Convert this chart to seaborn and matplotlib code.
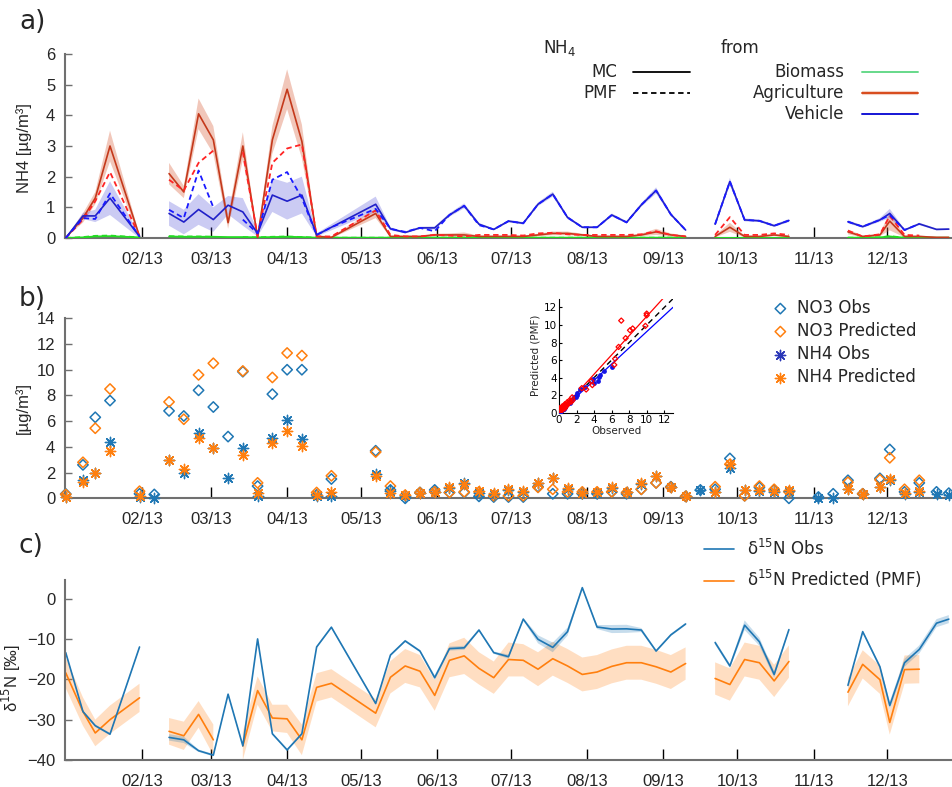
import numpy as np
import pandas as pd
import matplotlib
matplotlib.use("Agg")
import matplotlib.pyplot as plt
import seaborn as sns
from matplotlib.lines import Line2D

nan = np.nan

# ---------------- data ----------------
sample_day = [0, 7, 12, 18, 30, 36, 42, 48, 54, 60,
              66, 72, 78, 84, 90, 96, 102, 108, 126, 132,
              138, 144, 150, 156, 162, 168, 174, 180, 186, 192,
              198, 204, 210, 216, 222, 228, 234, 240, 246, 252,
              258, 264, 270, 276, 282, 288, 294, 306, 312, 318,
              324, 331, 335, 341, 347, 354, 359]

month_ticks = [31, 59, 90, 120, 151, 181, 212, 243, 273, 304, 334]
month_labels = ["02/13", "03/13", "04/13", "05/13", "06/13", "07/13",
                "08/13", "09/13", "10/13", "11/13", "12/13"]

# panel a: NH4 source contributions [ug/m3]
agr_mc = [0.0, 0.65, 1.3, 3.0, 0.05, nan, 2.1, 1.5, 4.05, 3.2,
          0.5, 3.0, 0.02, 3.2, 4.85, 3.15, 0.05, 0.02, 0.8, 0.05,
          0.05, 0.05, 0.1, 0.1, 0.1, 0.05, 0.05, 0.05, 0.05, 0.1,
          0.15, 0.15, 0.1, 0.05, 0.05, 0.05, 0.1, 0.2, 0.1, 0.05,
          nan, 0.05, 0.35, 0.05, 0.05, 0.1, 0.05, nan, nan, 0.2,
          0.05, 0.1, 0.55, 0.05, 0.05, 0.02, 0.02]
agr_mc_err = [0.0, 0.15, 0.2, 0.5, 0.05, nan, 0.35, 0.2, 0.5, 0.45,
              0.2, 0.45, 0.05, 0.45, 0.65, 0.55, 0.05, 0.03, 0.15, 0.03,
              0.03, 0.03, 0.04, 0.05, 0.08, 0.03, 0.03, 0.03, 0.03, 0.04,
              0.06, 0.06, 0.04, 0.03, 0.03, 0.03, 0.04, 0.1, 0.05, 0.03,
              nan, 0.03, 0.15, 0.03, 0.03, 0.04, 0.03, nan, nan, 0.08,
              0.03, 0.04, 0.3, 0.03, 0.03, 0.02, 0.02]
agr_pmf = [0.0, 0.6, 1.2, 2.15, 0.05, nan, 1.9, 1.55, 2.45, 2.85,
           nan, 2.8, 0.05, 2.45, 2.92, 3.05, 0.05, 0.05, 0.9, 0.1,
           0.05, 0.05, 0.1, 0.08, 0.05, 0.1, 0.1, 0.1, 0.08, 0.15,
           0.17, 0.12, 0.1, 0.1, 0.1, 0.1, 0.12, 0.22, 0.1, 0.05,
           nan, 0.1, 0.68, 0.1, 0.1, 0.15, 0.1, nan, nan, 0.24,
           0.05, 0.12, 0.72, 0.1, 0.08, nan, nan]
veh_mc = [0.0, 0.72, 0.72, 1.3, 0.05, nan, 0.8, 0.52, 0.93, 0.6,
          1.07, 0.85, 0.15, 1.4, 1.2, 1.4, 0.1, 0.35, 1.1, 0.3,
          0.18, 0.33, 0.33, 0.75, 1.05, 0.45, 0.28, 0.55, 0.48, 1.1,
          1.43, 0.67, 0.35, 0.35, 0.75, 0.51, 1.08, 1.55, 0.77, 0.26,
          nan, 0.45, 1.84, 0.59, 0.56, 0.4, 0.57, nan, nan, 0.53,
          0.37, 0.59, 0.8, 0.26, 0.46, 0.28, 0.29]
veh_mc_err = [0.0, 0.1, 0.2, 0.55, 0.05, nan, 0.4, 0.4, 0.5, 0.4,
              0.3, 0.45, 0.1, 0.55, 0.6, 0.6, 0.05, 0.1, 0.25, 0.05,
              0.03, 0.04, 0.05, 0.06, 0.08, 0.04, 0.03, 0.04, 0.04, 0.06,
              0.08, 0.05, 0.03, 0.03, 0.05, 0.04, 0.06, 0.1, 0.05, 0.03,
              nan, 0.04, 0.12, 0.05, 0.04, 0.04, 0.05, nan, nan, 0.05,
              0.04, 0.06, 0.15, 0.03, 0.04, 0.03, 0.03]
veh_pmf = [0.0, 0.65, 0.62, 1.45, 0.05, nan, 0.92, 0.65, 2.2, 1.0,
           nan, 0.6, 0.15, 1.9, 2.15, 1.3, 0.1, 0.35, 0.95, 0.3,
           0.2, 0.33, 0.22, 0.75, 1.05, 0.42, 0.28, 0.55, 0.48, 1.1,
           1.43, 0.67, 0.35, 0.35, 0.75, 0.51, 1.08, 1.55, 0.77, 0.26,
           nan, 0.45, 1.84, 0.59, 0.56, 0.4, 0.57, nan, nan, 0.53,
           0.37, 0.59, 0.75, 0.26, 0.46, nan, nan]
bio_mc = [0.0, 0.02, 0.05, 0.06, 0.02, nan, 0.05, 0.04, 0.04, 0.04,
          0.03, 0.03, 0.02, 0.03, 0.04, 0.03, 0.01, 0.01, 0.01, 0.01,
          0.01, 0.01, 0.01, 0.01, 0.01, 0.01, 0.01, 0.01, 0.01, 0.01,
          0.01, 0.01, 0.01, 0.01, 0.01, 0.01, 0.01, 0.01, 0.01, 0.01,
          nan, 0.01, 0.01, 0.01, 0.01, 0.01, 0.01, nan, nan, 0.01,
          0.01, 0.02, 0.05, 0.01, 0.01, 0.01, 0.01]
bio_pmf = [0.0, 0.03, 0.07, 0.08, 0.02, nan, 0.06, 0.05, 0.05, 0.04,
           nan, 0.03, 0.02, 0.04, 0.05, 0.03, 0.01, 0.01, 0.01, 0.01,
           0.01, 0.01, 0.01, 0.01, 0.01, 0.01, 0.01, 0.01, 0.01, 0.01,
           0.01, 0.01, 0.01, 0.01, 0.01, 0.01, 0.01, 0.01, 0.01, 0.01,
           nan, 0.01, 0.01, 0.01, 0.01, 0.01, 0.01, nan, nan, 0.01,
           0.01, 0.02, 0.06, 0.01, 0.01, nan, nan]

# panel b: concentrations [ug/m3]
no3_obs = [0.34, 2.6, 6.3, 7.6, 0.35, 0.3, 6.8, 6.4, 8.4, 7.1,
           4.8, 9.85, 0.95, 8.1, 10.0, 10.0, 0.26, 1.5, 3.7, 0.65,
           0.0, 0.45, 0.65, 0.45, 0.45, 0.15, 0.1, 0.1, 0.1, 0.9,
           0.35, 0.35, 0.35, 0.35, 0.5, 0.35, 0.7, 1.2, 0.9, 0.15,
           0.65, 0.7, 3.1, 0.2, 0.85, 0.65, 0.0, 0.1, 0.35, 1.4,
           0.35, 1.55, 3.8, 0.5, 1.2, 0.5, 0.4]
no3_pred = [0.3, 2.8, 5.45, 8.5, 0.55, nan, 7.5, 6.15, 9.6, 10.5,
            nan, 9.9, 1.2, 9.4, 11.3, 11.1, 0.45, 1.75, 3.6, 0.95,
            0.25, 0.45, 0.5, 0.45, 0.5, 0.5, 0.2, 0.2, 0.2, 0.85,
            0.7, 0.5, 0.5, 0.5, 0.5, 0.45, 0.7, 1.2, 0.85, 0.15,
            nan, 0.9, 2.65, 0.2, 0.95, 0.7, 0.5, nan, nan, 1.25,
            0.35, 1.45, 3.15, 0.7, 1.4, nan, nan]
nh4_obs = [0.1, 1.4, 2.0, 4.4, 0.1, 0.0, 3.0, 2.0, 5.1, 3.9,
           1.6, 3.95, 0.15, 4.7, 6.1, 4.6, 0.15, 0.2, 1.9, 0.55,
           0.15, 0.45, 0.5, 0.8, 1.2, 0.4, 0.35, 0.65, 0.5, 1.2,
           1.55, 0.7, 0.4, 0.45, 0.8, 0.5, 1.15, 1.7, 0.85, 0.2,
           0.65, 0.5, 2.35, 0.65, 0.6, 0.5, 0.6, 0.0, 0.0, 0.7,
           0.35, 0.85, 1.4, 0.35, 0.5, 0.35, 0.25]
nh4_pred = [0.1, 1.3, 2.0, 3.65, 0.2, nan, 2.95, 2.3, 4.7, 3.9,
            nan, 3.4, 0.4, 4.3, 5.2, 4.1, 0.25, 0.5, 1.75, 0.4,
            0.25, 0.45, 0.5, 0.85, 1.15, 0.6, 0.4, 0.7, 0.55, 1.2,
            1.6, 0.8, 0.45, 0.5, 0.85, 0.5, 1.2, 1.75, 0.85, 0.2,
            nan, 0.5, 2.7, 0.65, 0.65, 0.55, 0.65, nan, nan, 0.7,
            0.35, 0.85, 1.5, 0.45, 0.55, nan, nan]

# panel c: delta15N [permil]
d15n_obs = [-13.4, -28, -31.5, -33.6, -12, nan, -34.4, -35, -37.7, -38.8,
            -23.7, -36.5, -10, -33.5, -37.5, -33.5, -12, -7.1, -26, -14,
            -10.5, -13, -19.6, -12.4, -12.2, -7.8, -13.4, -14.4, -5.1, -10.1,
            -12.1, -8.2, 2.7, -7.05, -7.55, -7.5, -7.8, -13, -9, -6.3,
            nan, -10.9, -16.7, -6.6, -10.7, -18.8, -7.7, nan, nan, -21.5,
            -8.2, -16.9, -26.5, -15.9, -12.6, -6.1, -5.1]
d15n_obs_err = [0.3, 0.3, 0.3, 0.3, 0.3, nan, 0.8, 0.8, 0.3, 0.3,
                0.3, 0.3, 0.3, 0.3, 0.3, 0.3, 0.3, 0.3, 0.3, 0.3,
                0.3, 0.3, 0.6, 0.5, 0.5, 0.3, 0.3, 0.5, 0.3, 1.0,
                1.2, 1.0, 0.3, 0.5, 1.0, 1.0, 0.5, 0.3, 0.3, 0.3,
                nan, 0.5, 0.5, 1.2, 1.0, 0.8, 0.3, nan, nan, 0.3,
                0.3, 0.5, 1.0, 1.0, 1.0, 1.0, 1.0]
d15n_pred = [-18.4, -28, -33.3, -30, -24.6, nan, -32.9, -34, -28.7, -35,
             nan, -36.5, -22.8, -29.6, -29.8, -35, -22, -21, -28.4, -19.5,
             -16.7, -18, -24, -15.3, -14.2, -17.3, -19.6, -15.1, -15.3, -17.5,
             -14.9, -16.7, -18.8, -18.2, -16.8, -15.9, -15.9, -16.9, -18.2, -16.1,
             nan, -19.8, -21.3, -15.1, -15.9, -20.4, -15.6, nan, nan, -23.2,
             -16.3, -20.1, -30.7, -17.6, -17.5, nan, nan]
d15n_pred_err = [3.8, 3.5, 3.3, 3.5, 3.5, nan, 3.3, 3.5, 3.3, 3.8,
                 nan, 3.5, 3.5, 3.3, 3.5, 3.8, 3.5, 3.5, 3.5, 4.0,
                 4.2, 4.0, 3.8, 4.2, 4.5, 4.0, 4.0, 4.2, 4.0, 4.2,
                 4.2, 4.2, 4.2, 4.2, 4.2, 4.2, 4.2, 4.2, 4.2, 4.0,
                 nan, 4.0, 4.0, 4.2, 4.2, 4.0, 4.0, nan, nan, 3.5,
                 3.5, 3.5, 3.0, 3.5, 3.5, nan, nan]

# ---------------- style ----------------
sns.set_theme(style="white")
plt.rcParams["font.family"] = ["Liberation Sans", "DejaVu Sans"]
plt.rcParams["mathtext.fontset"] = "dejavusans"

C_AGR = "#c4391b"
C_AGR_P = "#ff2424"
C_AGR_B = "#d9603b"
C_VEH = "#2020c8"
C_VEH_P = "#1a1aff"
C_VEH_B = "#3030d0"
C_BIO = "#22dd22"
C_BLUE = "#1f77b4"
C_ORANGE = "#ff7f0e"
SPINE = "#707070"
XMIN, XMAX = -0.3, 360.3

days = np.array(sample_day, float)

fig = plt.figure(figsize=(9.52, 7.87), dpi=100)


def fx(px):
    return px / 952.0


def fy(py):
    return 1.0 - py / 787.0


AX_L = 65 / 952.0
AX_W = 1.0 - AX_L
ax_a = fig.add_axes([AX_L, fy(238), AX_W, 184 / 787.0])
ax_b = fig.add_axes([AX_L, fy(498.3), AX_W, 180 / 787.0])
ax_c = fig.add_axes([AX_L, fy(760), AX_W, 180 / 787.0])


def seg_line(ax, x, y, **kw):
    df = pd.DataFrame({"day": np.asarray(x, float), "val": np.asarray(y, float)})
    df["seg"] = df["val"].isna().cumsum()
    df = df.dropna()
    n0 = len(ax.lines)
    sns.lineplot(data=df, x="day", y="val", units="seg", estimator=None,
                 ax=ax, legend=False, **kw)
    return ax.lines[n0:]


def band(ax, y, err, color, alpha):
    y = np.asarray(y, float)
    e = np.asarray(err, float)
    ax.fill_between(days, y - e, y + e, color=color, alpha=alpha, linewidth=0)


def style_axis(ax):
    for s in ["top", "right"]:
        ax.spines[s].set_visible(False)
    for s in ["left", "bottom"]:
        ax.spines[s].set_color(SPINE)
        ax.spines[s].set_linewidth(1.5)
    ax.set_xlim(XMIN, XMAX)
    ax.set_xticks(month_ticks)
    ax.set_xticklabels(month_labels)
    ax.tick_params(axis="x", direction="in", length=8, width=1, color="black",
                   pad=10, labelsize=12, bottom=True)
    ax.tick_params(axis="y", direction="in", length=5, width=1, color=SPINE,
                   pad=7, labelsize=12, left=True)
    ax.set_xlabel("")
    ax.set_facecolor("none")


# ---------------- panel a ----------------
band(ax_a, agr_mc, agr_mc_err, C_AGR_B, 0.35)
band(ax_a, veh_mc, veh_mc_err, C_VEH_B, 0.25)
seg_line(ax_a, days, bio_mc, color=C_BIO, linewidth=1.3, zorder=3)
seg_line(ax_a, days, bio_pmf, color=C_BIO, linewidth=1.3, linestyle=(0, (3, 2)), zorder=3)
seg_line(ax_a, days, agr_mc, color=C_AGR, linewidth=1.2, zorder=3)
seg_line(ax_a, days, agr_pmf, color=C_AGR_P, linewidth=1.3, linestyle=(0, (3, 2)), zorder=3)
seg_line(ax_a, days, veh_mc, color=C_VEH, linewidth=1.2, zorder=3)
seg_line(ax_a, days, veh_pmf, color=C_VEH_P, linewidth=1.3, linestyle=(0, (3, 2)), zorder=3)
style_axis(ax_a)
ax_a.set_ylim(0, 6)
ax_a.set_yticks(range(0, 7))
ax_a.set_ylabel("NH4 [µg/m³]", fontsize=12)
ax_a.yaxis.set_label_coords(-0.037, 0.49)

# panel a legend (manual)
lf = {"family": "DejaVu Sans", "size": 12}
fig.text(fx(543), fy(48), "NH$_4$", va="center", ha="left", **lf)
fig.text(fx(721), fy(48), "from", va="center", ha="left", **lf)
for lab, yy, ls in [("MC", 72, "-"), ("PMF", 93, (0, (3, 2)))]:
    fig.text(fx(617), fy(yy), lab, va="center", ha="right", **lf)
    fig.add_artist(Line2D([fx(633), fx(690)], [fy(yy), fy(yy)], color="black",
                          linewidth=1.3, linestyle=ls, transform=fig.transFigure))
fig.add_artist(Line2D([fx(862), fx(918)], [fy(93), fy(93)], color=C_AGR_B, alpha=0.3,
                      linewidth=3, solid_capstyle="butt", transform=fig.transFigure))
for lab, yy, col in [("Biomass", 72, "#66d98a"), ("Agriculture", 93, "#d84a1b"),
                     ("Vehicle", 114, "#1515d5")]:
    fig.text(fx(844), fy(yy), lab, va="center", ha="right", **lf)
    fig.add_artist(Line2D([fx(862), fx(918)], [fy(yy), fy(yy)], color=col,
                          linewidth=1.4, transform=fig.transFigure))

# ---------------- panel b ----------------
sns.scatterplot(x=days, y=no3_obs, ax=ax_b, marker="D", s=28, color=C_BLUE,
                facecolor="none", edgecolor=C_BLUE, linewidth=1.1, zorder=3)
sns.scatterplot(x=days, y=no3_pred, ax=ax_b, marker="D", s=28, color=C_ORANGE,
                facecolor="none", edgecolor=C_ORANGE, linewidth=1.1, zorder=3)
sns.scatterplot(x=days, y=nh4_obs, ax=ax_b, marker=(8, 2, 0), s=55, color=C_BLUE,
                linewidth=1.0, zorder=3)
sns.scatterplot(x=days, y=nh4_pred, ax=ax_b, marker=(8, 2, 0), s=55, color=C_ORANGE,
                linewidth=1.0, zorder=3)
style_axis(ax_b)
ax_b.set_ylim(0, 14)
ax_b.set_yticks(range(0, 15, 2))
ax_b.set_ylabel("[µg/m³]", fontsize=12)
ax_b.yaxis.set_label_coords(-0.039, 0.5)
for coll in ax_b.collections:
    coll.set_clip_on(False)

handles_b = list(ax_b.collections[:4])
leg_b = ax_b.legend(handles_b, ["NO3 Obs", "NO3 Predicted", "NH4 Obs", "NH4 Predicted"],
                    loc="upper left", bbox_to_anchor=(fx(772), fy(299)),
                    bbox_transform=fig.transFigure, frameon=False,
                    prop={"family": "DejaVu Sans", "size": 12},
                    handlelength=1.0, handletextpad=0.5, labelspacing=0.3,
                    borderpad=0, borderaxespad=0)
nh = leg_b.legend_handles[2]
nh.set_facecolor("#2a36b8")
nh.set_edgecolor("#2a36b8")

# inset scatter
ax_in = fig.add_axes([fx(559), fy(412.7), 114 / 952.0, 114 / 787.0])
o3 = np.array(no3_obs, float)
p3 = np.array(no3_pred, float)
o4 = np.array(nh4_obs, float)
p4 = np.array(nh4_pred, float)
m3 = ~np.isnan(o3) & ~np.isnan(p3)
m4 = ~np.isnan(o4) & ~np.isnan(p4)
s_no3 = np.sum(o3[m3] * p3[m3]) / np.sum(o3[m3] ** 2)
s_nh4 = np.sum(o4[m4] * p4[m4]) / np.sum(o4[m4] ** 2)
ax_in.axline((0, 0), slope=1, color="black", linewidth=1.0, linestyle=(0, (4, 3)))
ax_in.axline((0, 0), slope=s_no3, color="red", linewidth=0.9)
ax_in.axline((0, 0), slope=s_nh4, color="blue", linewidth=0.9)
sns.scatterplot(x=o4[m4], y=p4[m4], ax=ax_in, marker="o", s=12, color="#1414e6",
                linewidth=0, zorder=3)
sns.scatterplot(x=o3[m3], y=p3[m3], ax=ax_in, marker="D", s=7, color="red",
                facecolor="none", edgecolor="red", linewidth=0.9, zorder=4)
ax_in.set_xlim(0, 13)
ax_in.set_ylim(0, 13)
ax_in.set_xticks(range(0, 13, 2))
ax_in.set_yticks(range(0, 13, 2))
for s in ["top", "right"]:
    ax_in.spines[s].set_visible(False)
for s in ["left", "bottom"]:
    ax_in.spines[s].set_color("black")
    ax_in.spines[s].set_linewidth(0.8)
ax_in.tick_params(direction="in", length=2.5, width=0.8, pad=1.5, labelsize=7.5,
                  left=True, bottom=True, colors="black")
for t in ax_in.get_xticklabels() + ax_in.get_yticklabels():
    t.set_family("DejaVu Sans")
ax_in.set_xlabel("Observed", fontsize=7.5, family="DejaVu Sans", labelpad=1)
ax_in.set_ylabel("Predicted (PMF)", fontsize=7.5, family="DejaVu Sans", labelpad=2)

# ---------------- panel c ----------------
band(ax_c, d15n_pred, d15n_pred_err, C_ORANGE, 0.25)
band(ax_c, d15n_obs, d15n_obs_err, C_BLUE, 0.25)
lp = seg_line(ax_c, days, d15n_pred, color=C_ORANGE, linewidth=1.2)
lo = seg_line(ax_c, days, d15n_obs, color=C_BLUE, linewidth=1.2)
style_axis(ax_c)
ax_c.set_ylim(-40, 4.6)
ax_c.set_yticks([-40, -30, -20, -10, 0])
ax_c.set_ylabel("δ$^{15}$N [‰]", fontsize=12)
ax_c.yaxis.set_label_coords(-0.047, 0.455)
ax_c.legend([lo[0], lp[0]], ["δ$^{15}$N Obs", "δ$^{15}$N Predicted (PMF)"],
            loc="upper left", bbox_to_anchor=(fx(704), fy(539)),
            bbox_transform=fig.transFigure, frameon=False,
            prop={"family": "DejaVu Sans", "size": 12},
            handlelength=1.8, handletextpad=0.8, labelspacing=0.55,
            borderpad=0, borderaxespad=0)

# panel letters
for lab, yy in [("a)", 22), ("b)", 299), ("c)", 546)]:
    fig.text(fx(19), fy(yy), lab, fontsize=19, family="DejaVu Sans",
             va="center", ha="left")

fig.savefig("out.png", dpi=100)
